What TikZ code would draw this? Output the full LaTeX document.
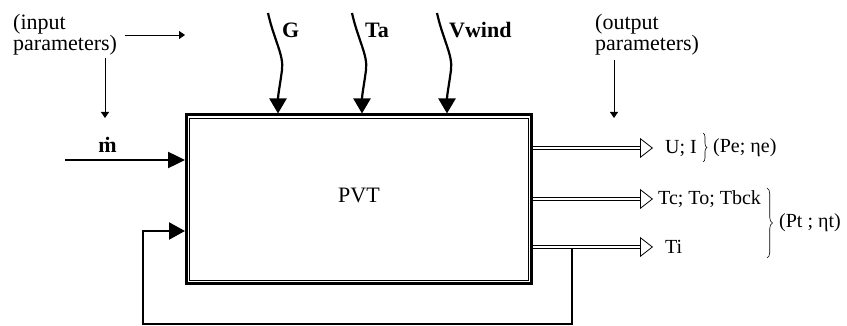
\documentclass[tikz,border=0pt]{standalone}
\usepackage{fontspec}
\setmainfont{Liberation Serif}
\usetikzlibrary{arrows.meta,decorations.pathreplacing}
\newcommand{\mdotglyph}{{\bfseries\iffontchar\font"1E41\relax\char"1E41\relax\else\ooalign{m\cr\hidewidth\raisebox{0.72em}{.}\hidewidth\cr}\fi}}
\begin{document}
\begin{tikzpicture}[x=1pt,y=-1pt,
  big/.style={font=\fontsize{22}{21}\selectfont, inner sep=0pt},
  small/.style={font=\fontsize{20}{20}\selectfont, inner sep=0pt},
  thinarrow/.style={line width=0.9pt, -{Triangle[length=6pt,width=8pt]}},
  wave/.style={line width=2.2pt, -{Triangle[length=15pt,width=17pt]}},
  feed/.style={line width=2.2pt, -{Triangle[length=16pt,width=17pt]}},
  dbl/.style={double, double distance=2.4pt, line width=0.9pt},
  hollow/.style={line width=0.8pt, -{Triangle[open,length=13pt,width=20pt]}},
  brc/.style={line width=0.6pt, decorate, decoration={brace, amplitude=4pt}}
]
\useasboundingbox (0,0) rectangle (847,326);

% main block
\node[draw, line width=3pt, minimum width=345pt, minimum height=168.5pt,
      inner sep=0pt, big, text depth=8pt] (pvt) at (359,199.25) {PVT};
\draw[line width=0.8pt] ([xshift=4.8pt,yshift=-4.8pt]pvt.north west)
  rectangle ([xshift=-4.8pt,yshift=4.2pt]pvt.south east);

% input / output parameter notes
\node[big, align=left, anchor=north west] (inp) at (13,14) {(input\\parameters)};
\node[big, align=left, anchor=north west] (outp) at (595,14) {(output\\parameters)};
\coordinate (ih1) at (125,35); \coordinate (ih2) at (185,35);
\draw[thinarrow] (ih1) -- (ih2);
\coordinate (iv1) at (105,58); \coordinate (iv2) at (105,118);
\draw[thinarrow] (iv1) -- (iv2);
\coordinate (ov1) at (614,60); \coordinate (ov2) at (614,118);
\draw[thinarrow] (ov1) -- (ov2);

% mass flow input
\node[big, anchor=base] (mdot) at (107.5,153) {\mdotglyph};
\coordinate (ms) at (65,160);
\draw[line width=2.5pt, -{Triangle[length=17pt,width=16pt]}] (ms) -- (ms -| pvt.west);

% wavy inputs
\foreach \x in {268,352,437} {
  \draw[wave] (\x,13) .. controls (\x+6,40) and (\x+16,55) .. (\x+14,70)
    .. controls (\x+12,85) and (\x+10,95) .. (\x+10,0 |- pvt.north);
}
\node[big, anchor=base west] (lg) at (282,38) {\bfseries G};
\node[big, anchor=base west] (lta) at (365,38) {\bfseries Ta};
\node[big, anchor=base west] (lv) at (449,38) {\bfseries Vwind};

% feedback loop
\coordinate (tap) at (572,249);
\coordinate (lb) at (143,324);
\coordinate (fb) at (143,231);
\draw[feed] (tap) |- (lb) |- (pvt.west |- fb);

% outputs
\coordinate (o1) at (640,148);
\coordinate (o2) at (640,199);
\coordinate (o3) at (640,247);
\foreach \o in {o1,o2,o3} {
  \draw[dbl] (\o -| pvt.east) -- (\o);
  \draw[hollow] (\o) -- ++(13,0);
}
\node[small, anchor=base west] (ui) at (665,154) {U; I};
\node[small, anchor=base west] (tc) at (658,205) {Tc; To; Tbck};
\node[small, anchor=base west] (ti) at (665,254) {Ti};
\node[small, anchor=base west] (pe) at (713,153) {(Pe; ηe)};
\node[small, anchor=base west] (pt) at (779,228) {(Pt ; ηt)};

\coordinate (b1) at (703,133); \coordinate (b2) at (703,162);
\draw[brc] (b1) -- (b2);
\coordinate (b3) at (767,188); \coordinate (b4) at (767,258);
\draw[brc, decoration={brace,amplitude=5.5pt}] (b3) -- (b4);
\end{tikzpicture}
\end{document}
